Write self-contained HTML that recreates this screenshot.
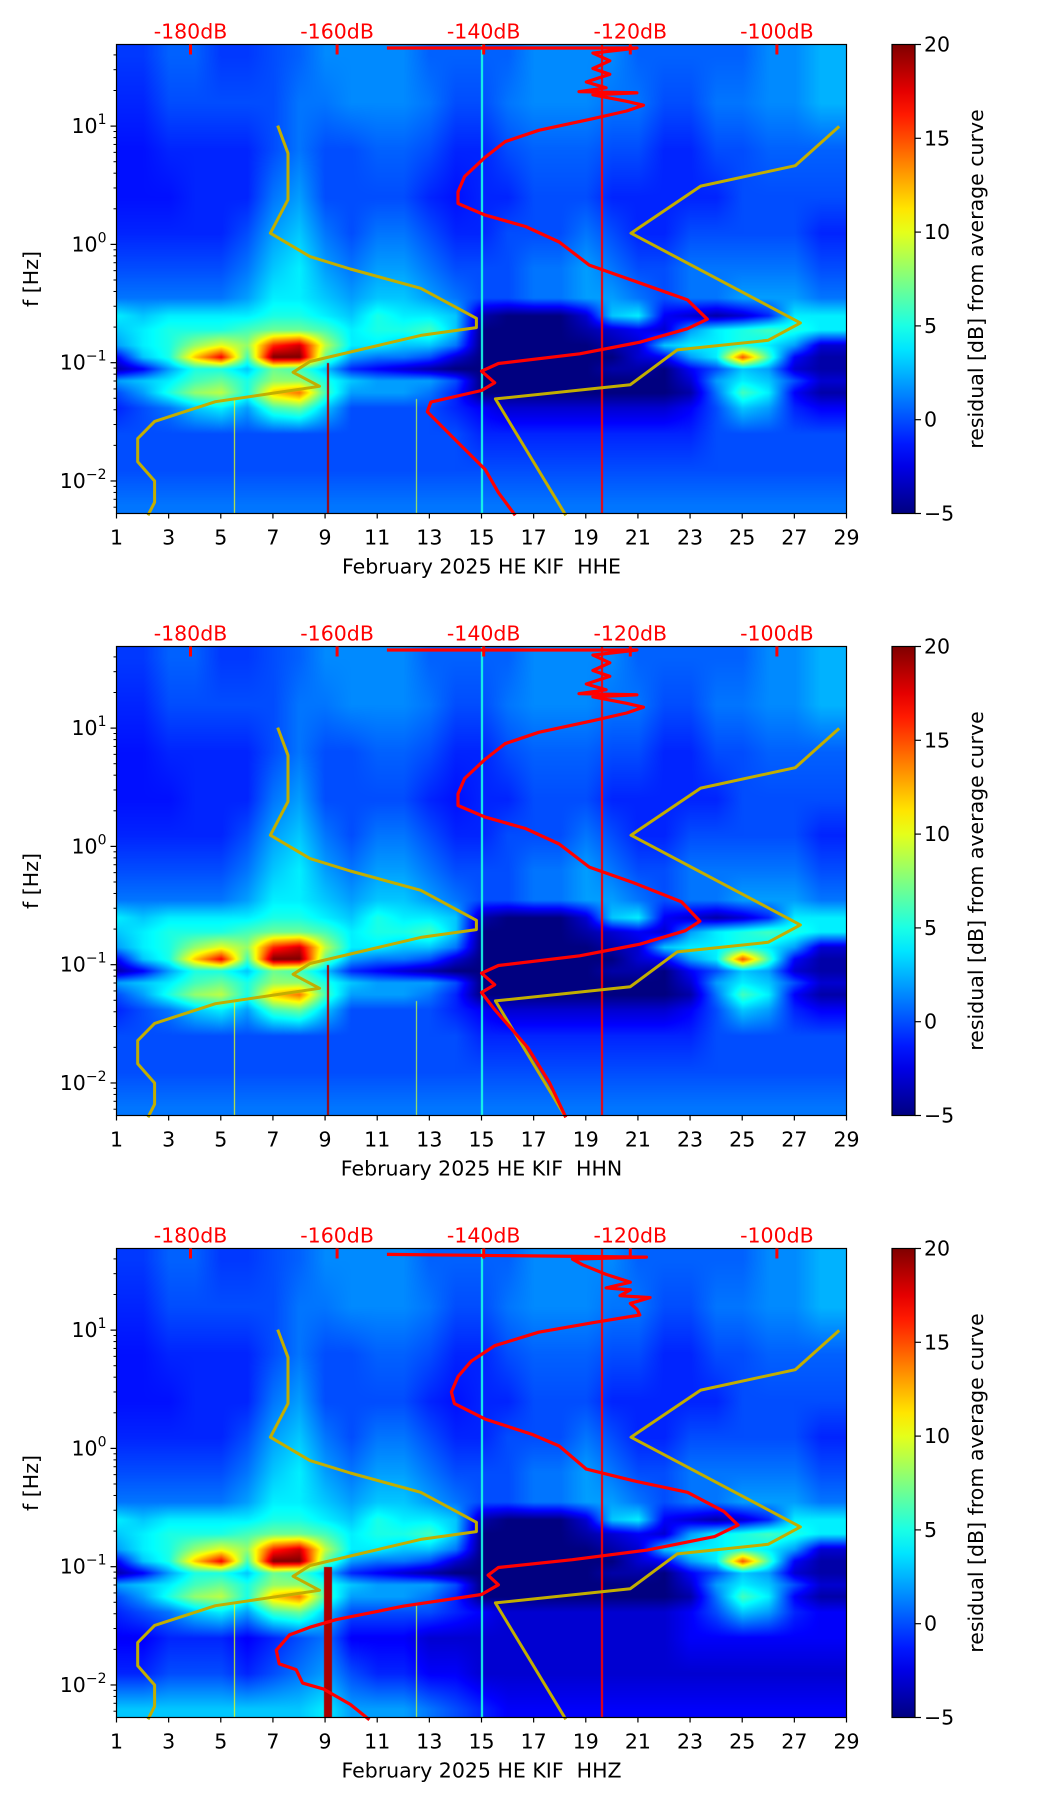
<!DOCTYPE html>
<html><head><meta charset="utf-8">
<style>
html,body{margin:0;padding:0;background:#fff;}
#root{position:relative;width:1052px;height:1806px;overflow:hidden;font-family:"DejaVu Sans","Liberation Sans",sans-serif;}
canvas{position:absolute;}
svg{position:absolute;left:0;top:0;}
text{white-space:pre;}
</style></head>
<body>
<div id="root">
<svg id="svg" width="1052" height="1806"></svg>
</div>
<script>
// ---- data ----
const panelChannels = ["HHE","HHN","HHZ"];
const rowLogF = [1.6,1.2,0.8,0.4,0.1,-0.2,-0.45,-0.6,-0.72,-0.85,-0.95,-1.05,-1.15,-1.25,-1.38,-1.6,-1.9,-2.2];
const gridTop = [
[-0.5,-0.5,0.5,0.5,-0.5,-0.5,0,0.5,1.5,1.5,1.5,1.5,0.5,0.5,0.5,0.5,1.5,1.5,1.5,1.5,0.5,0.5,0.5,0.5,0.5,1.5,1.5,2.5],
[-1,-1,0,0,0,0,0,1,1,1.5,1.5,1.5,1,0,0,1,1.5,1.5,1.5,1,1,0,0,1,1,1.5,1.5,2.5],
[-1.5,-1.5,-1,-1,-1,-1,0,1,0,0,0.5,0.5,0,-1,-1,0,0.5,0.5,0.5,0,0,-1,-1,0,0,0.5,0.5,0.5],
[-1.5,-1.5,-1.5,-1,-1,-1,1,2,0,0,0,0,-1,-1.5,-1,-1,0,0,0,-1,-1,-1,-1,-1,0,0,0,0],
[-1,-1,-1,-1,-1,0,2,3,1,0,1,1,0,-1,-1,0,0,0,1,0,-1,-1,0,0,0,0,0,-1],
[0,0,0,0,0,1,3,4,2,1,2,2,1,0,0,0,1,1,2,1,0,0,1,1,1,1,1,0],
[1,1,1,1,1,2,4,4,3,2,3,3,2,1,0,0,1,1,2,2,1,0,1,1,2,2,2,1],
[4,3,4,4,4,4,5,5,4,3,5,4,4,3,-4,-5,-5,-5,-3,3,4,-2,-3,-4,-3,-1,4,4],
[3,4,5,5,5,6,7,7,6,4,5,5,6,3,-5,-5,-5,-5,-4,-3,-2,-3,2,4,5,6,5,4],
[2,4,5,8,10,8,16,18,9,4,4,3,3,1,-5,-5,-5,-5,-5,-4,-3,3,4,4,5,4,2,-3],
[-2,3,5,12,17,6,20,20,7,2,1,1,0,-3,-5,-5,-5,-5,-5,-5,-3,-2,2,4,15,6,-2,-4],
[-4,-2,2,5,5,3,7,6,3,-1,-2,-3,-4,-5,-5,-5,-5,-5,-5,-4,-4,-5,-2,0,3,2,-3,-4],
[2,3,4,6,7,5,8,8,5,3,2,2,2,0,-5,-5,-5,-5,-5,-5,-5,-5,-3,2,4,3,0,-3],
[0,2,5,8,9,5,12,14,6,2,2,2,1,-1,-5,-5,-5,-5,-5,-5,-5,-5,-4,1,6,4,-2,-4]
];
const gridLowHorizontal = [
[-1,0,1,3,4,2,6,7,3,0,0,0,0,-1,-2,-3,-3,-3,-3,-3,-3,-3,-2,0,3,2,-1,-2],
[0,0,0,0,0,0,0,0,0,0,0,0,0,0,-1,-1,-1,-1,-1,-1,-1,-1,-1,0,0,0,0,0],
[0,0,0,0,0,0,0,0,0,0,0,0,0,0,0,0,0,0,0,0,0,0,0,0,0,0,0,0],
[1,1,1,1,1,1,1,1,1,1,1,1,1,1,1,1,1,1,1,1,1,1,1,1,1,1,1,1]
];
const gridLowVertical = [
[-1,0,1,3,4,2,6,7,3,0,0,0,0,-1,-2,-3,-3,-3,-3,-3,-3,-3,-2,0,3,2,-1,-2],
[-2,-2,-1,-1,-1,-2,-1,0,1,-2,-2,-2,-3,-3,-3,-3,-3,-3,-3,-3,-3,-3,-2,-2,-2,-2,-2,-2],
[-1,-1,0,0,0,-1,0,1,2,0,-1,-1,-2,-2,-3,-3,-3,-3,-3,-3,-3,-3,-3,-3,-3,-3,-3,-3],
[3,3,3,3,3,3,3,3,4,2,2,2,1,0,-1,-2,-2,-2,-2,-2,-2,-2,-2,-2,-2,-2,-2,-2]
];
const streakDays = [9.1, 19.6, 15.0, 5.5, 12.5];
const streakTopLogF = [-1.0, 1.69, 1.69, -1.3, -1.3];
const streakValues = [19, 17, 5, 10, 9];
const yellowLeftDB = [-168.1,-166.7,-166.7,-169.1,-163.7,-158.2,-148.6,-141.0,-141.0,-148.6,-163.7,-166.0,-162.4,-176.6,-184.9,-187.2,-187.2,-184.9,-184.9,-185.8];
const yellowLeftLogF = [1.004,0.77,0.379,0.095,-0.103,-0.208,-0.371,-0.625,-0.703,-0.769,-0.99,-1.081,-1.2,-1.33,-1.496,-1.642,-1.837,-2.0,-2.18,-2.29];
const yellowRightDB = [-91.5,-97.5,-110.4,-119.9,-96.8,-101.2,-113.6,-120.0,-138.4,-128.8];
const yellowRightLogF = [0.998,0.665,0.493,0.095,-0.664,-0.811,-0.892,-1.186,-1.306,-2.29];
const redHHE_DB = [-153.2,-119.1,-125.1,-122.8,-125.1,-122.8,-126.0,-123.3,-127.0,-119.1,-125.1,-120.5,-118.2,-120.5,-125.1,-132.5,-137.1,-139.8,-142.6,-143.5,-143.5,-139.8,-134.3,-129.7,-125.6,-119.6,-112.2,-109.5,-112.2,-118.7,-126.9,-138.0,-140.3,-138.5,-140.3,-147.2,-147.7,-143.5,-139.8,-138.0,-135.7];
const redHHE_LogF = [1.66,1.66,1.617,1.552,1.487,1.438,1.373,1.324,1.291,1.282,1.265,1.21,1.177,1.128,1.063,0.965,0.868,0.737,0.574,0.444,0.346,0.248,0.151,0.02,-0.175,-0.306,-0.469,-0.632,-0.713,-0.827,-0.925,-1.007,-1.072,-1.169,-1.235,-1.333,-1.414,-1.675,-1.903,-2.098,-2.29];
const redHHN_DB = [-153.2,-119.1,-125.1,-122.8,-125.1,-122.8,-126.0,-123.3,-127.0,-119.1,-125.1,-120.5,-118.2,-120.5,-125.1,-132.5,-137.1,-139.8,-142.6,-143.5,-143.5,-139.8,-134.3,-129.7,-125.6,-119.6,-113.0,-110.5,-112.5,-118.7,-126.9,-138.0,-140.3,-138.5,-140.3,-138.5,-134.0,-131.0,-128.8];
const redHHN_LogF = [1.66,1.66,1.617,1.552,1.487,1.438,1.373,1.324,1.291,1.282,1.265,1.21,1.177,1.128,1.063,0.965,0.868,0.737,0.574,0.444,0.346,0.248,0.151,0.02,-0.175,-0.306,-0.469,-0.632,-0.713,-0.827,-0.925,-1.007,-1.072,-1.169,-1.235,-1.38,-1.7,-2.0,-2.29];
const redHHZ_DB = [-153.2,-117.8,-127.9,-126.5,-123.3,-120.0,-123.3,-120.0,-121.4,-117.3,-120.0,-119.1,-118.7,-125.1,-132.5,-138.5,-141.7,-143.5,-144.4,-144.0,-139.8,-133.4,-129.7,-126.0,-119.6,-112.2,-107.2,-105.3,-108.5,-117.7,-127.9,-138.0,-139.4,-138.0,-140.3,-150.9,-160.1,-163.7,-166.5,-168.3,-167.9,-165.6,-164.7,-161.9,-158.2,-155.6];
const redHHZ_LogF = [1.64,1.617,1.6,1.552,1.471,1.405,1.357,1.34,1.291,1.275,1.226,1.177,1.128,1.063,0.982,0.868,0.737,0.607,0.477,0.379,0.248,0.118,0.02,-0.175,-0.273,-0.371,-0.534,-0.648,-0.746,-0.86,-0.941,-1.007,-1.072,-1.153,-1.235,-1.333,-1.447,-1.512,-1.577,-1.707,-1.821,-1.87,-1.984,-2.033,-2.164,-2.294];
const dbTicks = [-180,-160,-140,-120,-100];
const dayTicks = [1,3,5,7,9,11,13,15,17,19,21,23,25,27,29];
const decadeTicks = [-2,-1,0,1];
const cbarTicks = [-5,0,5,10,15,20];

// ---- layout ----
const AX_L=116.5, AX_W=730, AX_H=469, TOPS=[44.5,646.5,1248.5];
const LOGMAX=1.69, LOGMIN=-2.275, CB_L=892, CB_W=23, VMIN=-5, VMAX=20, FS=20.5;
const xDay = d => AX_L + (d-1)/28*AX_W;
const xDB = v => 190.5 + (v+180)*7.33;
const yLog = (top,l) => top + (LOGMAX-l)/(LOGMAX-LOGMIN)*AX_H;
function jet(t){t=Math.max(0,Math.min(1,t));const c=x=>Math.max(0,Math.min(1,x));
 return [c(1.5-Math.abs(4*t-3))*255,c(1.5-Math.abs(4*t-2))*255,c(1.5-Math.abs(4*t-1))*255];}
const NS="http://www.w3.org/2000/svg";
const svg=document.getElementById('svg');
function el(tag,attrs,parent,text){const e=document.createElementNS(NS,tag);for(const k in attrs)e.setAttribute(k,attrs[k]);if(text!==undefined)e.textContent=text;(parent||svg).appendChild(e);return e;}

function sample(grid,d,l){
 let ci=d-1; ci=Math.max(0,Math.min(27,ci)); const c0=Math.floor(ci),c1=Math.min(27,c0+1),fc=ci-c0;
 let r0=0,r1=0,fr=0;
 if(l>=rowLogF[0]){r0=r1=0;} else if(l<=rowLogF[rowLogF.length-1]){r0=r1=rowLogF.length-1;}
 else{for(let i=0;i<rowLogF.length-1;i++){if(l<=rowLogF[i]&&l>=rowLogF[i+1]){r0=i;r1=i+1;fr=(rowLogF[i]-l)/(rowLogF[i]-rowLogF[i+1]);break;}}}
 const v=(r,c)=>grid[r][c];
 const a=v(r0,c0)*(1-fc)+v(r0,c1)*fc, b=v(r1,c0)*(1-fc)+v(r1,c1)*fc;
 return a*(1-fr)+b*fr;
}

panelChannels.forEach((ch,pi)=>{
 const top=TOPS[pi];
 const grid=gridTop.concat(pi===2?gridLowVertical:gridLowHorizontal);
 const cv=document.createElement('canvas');
 cv.width=Math.round(AX_W);cv.height=AX_H;cv.style.left=AX_L+'px';cv.style.top=top+'px';
 
 
 document.getElementById('root').insertBefore(cv,svg);
 const ctx=cv.getContext('2d');const img=ctx.createImageData(cv.width,cv.height);
 for(let y=0;y<cv.height;y++){const l=LOGMAX-(y+0.5)/AX_H*(LOGMAX-LOGMIN);
  for(let x=0;x<cv.width;x++){const d=1+(x+0.5)/AX_W*28;let v=sample(grid,d,l);
   for(let s=0;s<streakDays.length;s++){const w=(s===0)?(pi===2?0.16:0.05):0.025;if(Math.abs(d-streakDays[s])<w&&l<=streakTopLogF[s])v=streakValues[s];}
   const c=jet((v-VMIN)/(VMAX-VMIN));const k=(y*cv.width+x)*4;img.data[k]=c[0];img.data[k+1]=c[1];img.data[k+2]=c[2];img.data[k+3]=255;}}
 ctx.putImageData(img,0,0);

 const g=el('g',{});
 const path=(xs,ys,color,w,name)=>{let dstr='';xs.forEach((v,i)=>{dstr+=(i?'L':'M')+xDB(v).toFixed(1)+','+yLog(top,ys[i]).toFixed(1);});
  el('path',{d:dstr,fill:'none',stroke:color,'stroke-width':w,'stroke-linejoin':'round',},g);};
 path(yellowLeftDB,yellowLeftLogF,'#c2ae00',3,'low-noise-model-curve');
 path(yellowRightDB,yellowRightLogF,'#c2ae00',3,'high-noise-model-curve');
 const rd=[redHHE_DB,redHHN_DB,redHHZ_DB][pi], rl=[redHHE_LogF,redHHN_LogF,redHHZ_LogF][pi];
 path(rd,rl,'#ff0000',3.2,'average-psd-curve');
 el('rect',{x:AX_L,y:top,width:AX_W,height:AX_H,fill:'none',stroke:'#000','stroke-width':1.2,},g);
 dayTicks.forEach(d=>{const x=xDay(d);
  el('line',{x1:x,x2:x,y1:top+AX_H,y2:top+AX_H+5,stroke:'#000','stroke-width':1.2},g);
  el('text',{x:x,y:top+AX_H+31,'font-size':FS,'text-anchor':'middle',},g,String(d));});
 el('text',{x:(AX_L+AX_W/2),y:top+AX_H+60,'font-size':FS,'text-anchor':'middle',},g,'February 2025 HE KIF\u00a0\u00a0'+ch);
 dbTicks.forEach(v=>{const x=xDB(v);
  el('line',{x1:x,x2:x,y1:top,y2:top+10,stroke:'#ff0000','stroke-width':3},g);
  el('text',{x:x,y:top-6,'font-size':FS,fill:'#ff0000','text-anchor':'middle',},g,v+'dB');});
 decadeTicks.forEach(p=>{const y=yLog(top,p);
  el('line',{x1:AX_L-6,x2:AX_L,y1:y,y2:y,stroke:'#000','stroke-width':1.2},g);
  const t=el('text',{x:AX_L-10,y:y+7,'font-size':FS,'text-anchor':'end',},g);
  const a=document.createElementNS(NS,'tspan');a.textContent='10';t.appendChild(a);
  const b=document.createElementNS(NS,'tspan');b.setAttribute('dy','-9');b.setAttribute('font-size','14');b.textContent=(p<0?'\u2212':'')+Math.abs(p);t.appendChild(b);
  for(let m=2;m<=9;m++){const l=p+Math.log10(m);if(l<LOGMAX){const ym=yLog(top,l);el('line',{x1:AX_L-3,x2:AX_L,y1:ym,y2:ym,stroke:'#000','stroke-width':1},g);}}
 });
 for(let m=5;m<=9;m++){const l=-3+Math.log10(m);if(l>LOGMIN){const ym=yLog(top,l);el('line',{x1:AX_L-3,x2:AX_L,y1:ym,y2:ym,stroke:'#000','stroke-width':1},g);}}
 el('text',{x:0,y:0,'font-size':FS,'text-anchor':'middle',transform:`translate(38,${top+AX_H/2}) rotate(-90)`,},g,'f [Hz]');
 const defs=el('defs',{},g);const lg=el('linearGradient',{id:'jet'+pi,x1:0,y1:1,x2:0,y2:0},defs);
 for(let i=0;i<=20;i++){const c=jet(i/20);el('stop',{offset:(i/20),'stop-color':`rgb(${c.map(Math.round).join(',')})`},lg);}
 el('rect',{x:CB_L,y:top,width:CB_W,height:AX_H,fill:`url(#jet${pi})`,stroke:'#000','stroke-width':1.2,},g);
 cbarTicks.forEach(v=>{const y=top+AX_H-(v-VMIN)/(VMAX-VMIN)*AX_H;
  el('line',{x1:CB_L+CB_W,x2:CB_L+CB_W+6,y1:y,y2:y,stroke:'#000','stroke-width':1.2},g);
  el('text',{x:CB_L+CB_W+9,y:y+7,'font-size':FS,},g,v<0?'\u2212'+Math.abs(v):String(v));});
 el('text',{x:0,y:0,'font-size':FS,'text-anchor':'middle',transform:`translate(983,${top+AX_H/2}) rotate(-90)`,},g,'residual [dB] from average curve');
});
</script>
</body></html>
